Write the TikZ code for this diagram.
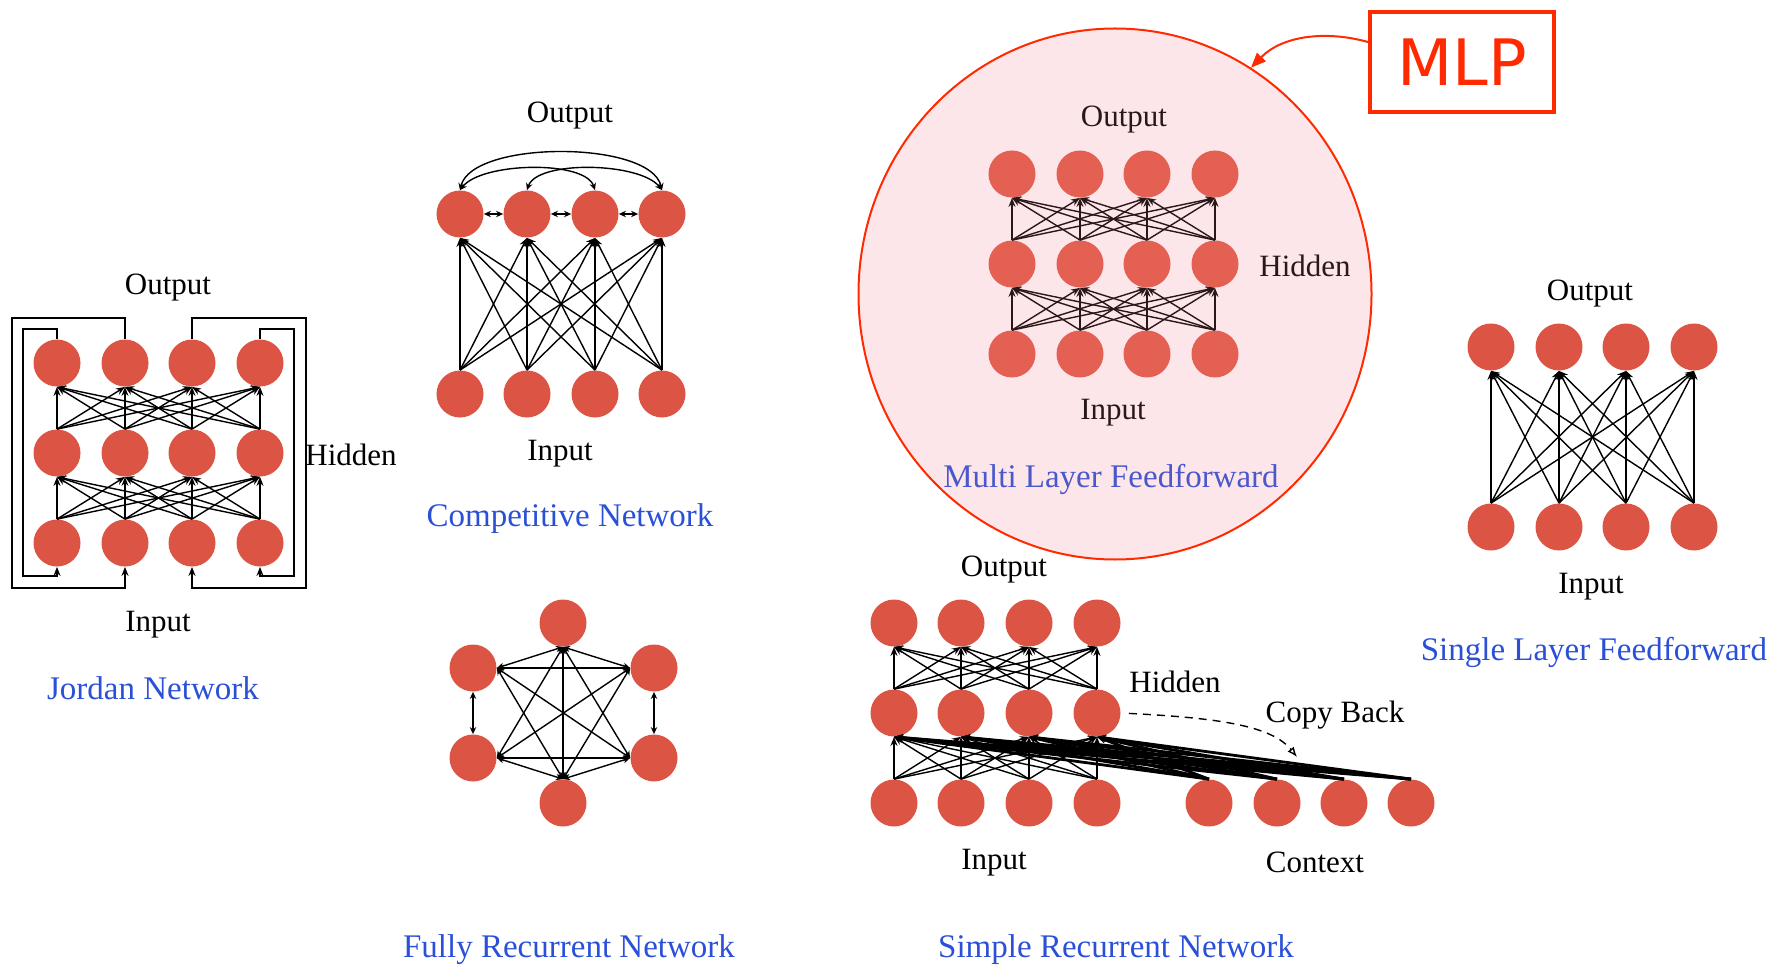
\documentclass[tikz,border=0pt]{standalone}
\usepackage{fontspec}
\setmainfont{Liberation Serif}
\newfontfamily\mlpfont{DejaVu Sans}
\usetikzlibrary{arrows.meta,shapes.geometric}
\definecolor{nred}{HTML}{DC5443}
\definecolor{nredl}{HTML}{E46053}
\definecolor{tblue}{HTML}{2A50D8}
\definecolor{mblue}{HTML}{4A58CC}
\definecolor{mlpred}{HTML}{FF2A00}
\definecolor{pinkfill}{HTML}{FDE6EA}
\definecolor{darkarr}{HTML}{2A1818}
\begin{document}
\begin{tikzpicture}[x=0.5pt,y=-0.5pt,
 neuron/.style={circle,fill=nred,draw=none,minimum size=23.5pt,inner sep=0pt},
 mneuron/.style={neuron,fill=nredl},
 conn/.style={-{Stealth[length=4.5pt,width=3.5pt]},line width=0.7pt},
 bconn/.style={{Stealth[length=3.5pt,width=3.2pt]}-{Stealth[length=3.5pt,width=3.2pt]},line width=0.7pt},
 lbl/.style={font=\fontsize{15.5}{18}\selectfont,inner sep=0pt},
 ttl/.style={font=\fontsize{16.5}{20}\selectfont,text=tblue,inner sep=0pt},
]
\useasboundingbox (0,0) rectangle (1767,968);

% ---------------- Jordan network ----------------
\foreach \i/\x in {1/57,2/125,3/192,4/260}{
  \node[neuron] (jo\i) at (\x,363) {};
  \node[neuron] (jh\i) at (\x,453) {};
  \node[neuron] (ji\i) at (\x,543) {};
}
\foreach \i in {1,...,4}{\foreach \k in {1,...,4}{
  \draw[conn] (jh\i.north) -- (jo\k.south);
  \draw[conn] (ji\i.north) -- (jh\k.south);
}}
\draw[conn,line width=0.9pt] (jo1.north) |- (23,329) -- (23,576) -| (ji1.south);
\draw[conn,line width=0.9pt] (jo2.north) |- (12,318) -- (12,588) -| (ji2.south);
\draw[conn,line width=0.9pt] (jo3.north) |- (306,318) -- (306,588) -| (ji3.south);
\draw[conn,line width=0.9pt] (jo4.north) |- (294,329) -- (294,576) -| (ji4.south);
\node[lbl] (jout) at (168,288) {Output};
\node[lbl] (jhid) at (351,455) {Hidden};
\node[lbl] (jin) at (158,625) {Input};
\node[ttl] (jttl) at (153,688) {Jordan Network};

% ---------------- Competitive network ----------------
\foreach \i/\x in {1/460,2/527,3/595,4/662}{
  \node[neuron] (co\i) at (\x,214) {};
  \node[neuron] (ci\i) at (\x,394) {};
}
\foreach \i in {1,...,4}{\foreach \k in {1,...,4}{
  \draw[conn] (ci\i.north) -- (co\k.south);
}}
\draw[bconn,line width=1.2pt] (co1.east) -- (co2.west);
\draw[bconn,line width=1.2pt] (co2.east) -- (co3.west);
\draw[bconn,line width=1.2pt] (co3.east) -- (co4.west);
\draw[bconn] (co1.north) .. controls (472,140) and (650,140) .. (co4.north);
\draw[bconn] (co1.north) .. controls (482,162) and (585,160) .. (co3.north);
\draw[bconn] (co2.north) .. controls (537,160) and (640,162) .. (co4.north);
\node[lbl] (cout) at (570,116) {Output};
\node[lbl] (cin) at (560,454) {Input};
\node[ttl] (cttl) at (570,519) {Competitive Network};

% ---------------- Fully recurrent network ----------------
\node[neuron] (ft) at (563,623) {};
\node[neuron] (ful) at (473,668) {};
\node[neuron] (fur) at (654,668) {};
\node[neuron] (fll) at (473,758) {};
\node[neuron] (flr) at (654,758) {};
\node[neuron] (fb) at (563,803) {};
\draw[bconn,line width=1pt] (ful.south) -- (fll.north);
\draw[bconn,line width=1pt] (fur.south) -- (flr.north);
\draw[bconn] (ft.south) -- (ful.east);
\draw[bconn] (ft.south) -- (fur.west);
\draw[bconn] (ft.south) -- (fll.east);
\draw[bconn] (ft.south) -- (flr.west);
\draw[bconn] (ft.south) -- (fb.north);
\draw[bconn] (ful.east) -- (fur.west);
\draw[bconn] (ful.east) -- (flr.west);
\draw[bconn] (ful.east) -- (fb.north);
\draw[bconn] (fur.west) -- (fll.east);
\draw[bconn] (fur.west) -- (fb.north);
\draw[bconn] (fll.east) -- (flr.west);
\draw[bconn] (fll.east) -- (fb.north);
\draw[bconn] (flr.west) -- (fb.north);
\node[ttl] (fttl) at (569,950) {Fully Recurrent Network};

% ---------------- Multi layer feedforward (MLP) ----------------
\node[ellipse,draw=mlpred,fill=pinkfill,line width=1pt,minimum width=256.5pt,minimum height=265.5pt,inner sep=0pt] (mlpell) at (1115,294) {};
\foreach \i/\x in {1/1012,2/1080,3/1147,4/1215}{
  \node[mneuron] (mo\i) at (\x,174) {};
  \node[mneuron] (mh\i) at (\x,264) {};
  \node[mneuron] (mi\i) at (\x,354) {};
}
\foreach \i in {1,...,4}{\foreach \k in {1,...,4}{
  \draw[conn,darkarr] (mh\i.north) -- (mo\k.south);
  \draw[conn,darkarr] (mi\i.north) -- (mh\k.south);
}}
\node[lbl,text=darkarr] (mout) at (1124,120) {Output};
\node[lbl,text=darkarr] (mhid) at (1305,266) {Hidden};
\node[lbl,text=darkarr] (min) at (1113,413) {Input};
\node[ttl,text=mblue] (mttl) at (1111,479) {Multi Layer Feedforward};
\node[draw=mlpred,line width=1.6pt,minimum width=92pt,minimum height=50pt,inner sep=0pt,text=mlpred,font=\mlpfont\fontsize{32}{38}\selectfont] (mlpbox) at (1462,62) {MLP};
\draw[mlpred,line width=1pt,-{Triangle[length=7.5pt,width=6pt]}] (mlpbox.168) .. controls (1325,30) and (1282,36) .. (mlpell.59);

% ---------------- Single layer feedforward ----------------
\foreach \i/\x in {1/1491,2/1559,3/1626,4/1694}{
  \node[neuron] (lo\i) at (\x,347) {};
  \node[neuron] (li\i) at (\x,527) {};
}
\foreach \i in {1,...,4}{\foreach \k in {1,...,4}{
  \draw[conn] (li\i.north) -- (lo\k.south);
}}
\node[lbl] (lout) at (1590,294) {Output};
\node[lbl] (lin) at (1591,587) {Input};
\node[ttl] (lttl) at (1594,652) {Single Layer Feedforward};

% ---------------- Simple recurrent network ----------------
\foreach \i/\x in {1/894,2/961,3/1029,4/1097}{
  \node[neuron] (so\i) at (\x,623) {};
  \node[neuron] (sh\i) at (\x,713) {};
  \node[neuron] (si\i) at (\x,803) {};
}
\foreach \i/\x in {1/1209,2/1277,3/1344,4/1411}{
  \node[neuron] (sc\i) at (\x,803) {};
}
\foreach \i in {1,...,4}{\foreach \k in {1,...,4}{
  \draw[conn] (sh\i.north) -- (so\k.south);
  \draw[conn] (si\i.north) -- (sh\k.south);
  \draw[conn,line width=1.4pt] (sc\i.north) -- (sh\k.south);
}}
\coordinate (cbend) at (1297,757);
\draw[dashed,dash pattern=on 4pt off 3pt,line width=0.7pt,-{Latex[open,length=5pt,width=4pt]},shorten <=4pt] (sh4.east) .. controls (1220,718) and (1272,726) .. (cbend);
\node[lbl] (sout) at (1004,570) {Output};
\node[lbl] (shid) at (1175,682) {Hidden};
\node[lbl] (scb) at (1335,715) {Copy Back};
\node[lbl] (sin) at (994,863) {Input};
\node[lbl] (sctx) at (1315,862) {Context};
\node[ttl] (sttl) at (1116,950) {Simple Recurrent Network};
\end{tikzpicture}
\end{document}
